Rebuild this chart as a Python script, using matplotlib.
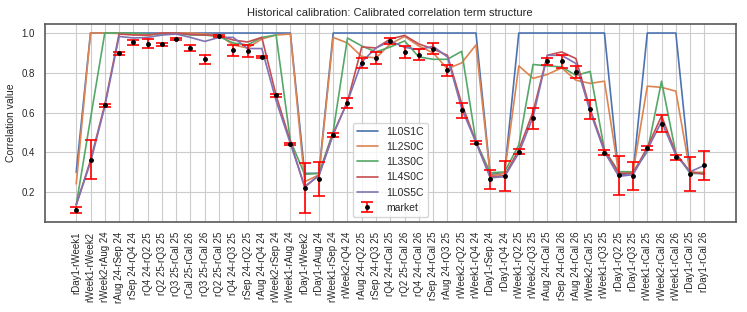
import numpy as np
import matplotlib
matplotlib.use("Agg")
import matplotlib.pyplot as plt
import seaborn as sns

# Pares de tenores (eje x)
pairs = [
    "rDay1-rWeek1", "rWeek1-rWeek2", "rWeek2-rAug 24", "rAug 24-rSep 24", "rSep 24-rQ4 24",
    "rQ4 24-rQ2 25", "rQ2 25-rQ3 25", "rQ3 25-rCal 25", "rCal 25-rCal 26", "rQ3 25-rCal 26",
    "rQ2 25-rCal 25", "rQ4 24-rQ3 25", "rSep 24-rQ2 25", "rAug 24-rQ4 24", "rWeek2-rSep 24",
    "rWeek1-rAug 24", "rDay1-rWeek2", "rDay1-rAug 24", "rWeek1-rSep 24", "rWeek2-rQ4 24",
    "rAug 24-rQ2 25", "rSep 24-rQ3 25", "rQ4 24-rCal 25", "rQ2 25-rCal 26", "rQ4 24-rCal 26",
    "rSep 24-rCal 25", "rAug 24-rQ3 25", "rWeek2-rQ2 25", "rWeek1-rQ4 24", "rDay1-rSep 24",
    "rDay1-rQ4 24", "rWeek1-rQ2 25", "rWeek2-rQ3 25", "rAug 24-rCal 25", "rSep 24-rCal 26",
    "rAug 24-rCal 26", "rWeek2-rCal 25", "rWeek1-rQ3 25", "rDay1-rQ2 25", "rDay1-rQ3 25",
    "rWeek1-rCal 25", "rWeek2-rCal 26", "rWeek1-rCal 26", "rDay1-rCal 25", "rDay1-rCal 26",
]

market = [0.112, 0.363, 0.637, 0.898, 0.953, 0.947, 0.943, 0.970, 0.927, 0.868,
          0.985, 0.913, 0.910, 0.880, 0.687, 0.442, 0.220, 0.267, 0.488, 0.650,
          0.850, 0.873, 0.960, 0.903, 0.892, 0.922, 0.812, 0.612, 0.448, 0.265,
          0.282, 0.403, 0.572, 0.857, 0.857, 0.803, 0.617, 0.398, 0.285, 0.280,
          0.423, 0.545, 0.375, 0.293, 0.335]

market_err = [0.015, 0.098, 0.007, 0.006, 0.011, 0.023, 0.007, 0.006, 0.015, 0.023,
              0.005, 0.026, 0.030, 0.006, 0.007, 0.007, 0.125, 0.085, 0.010, 0.026,
              0.026, 0.030, 0.017, 0.030, 0.028, 0.028, 0.028, 0.037, 0.008, 0.048,
              0.077, 0.012, 0.052, 0.020, 0.032, 0.030, 0.048, 0.012, 0.098, 0.071,
              0.010, 0.042, 0.013, 0.085, 0.073]

m_1L0S1C = [0.300, 1.0, 1.0, 1.0, 1.0, 1.0, 1.0, 1.0, 1.0, 1.0,
            1.0, 1.0, 1.0, 1.0, 1.0, 1.0, 0.295, 0.295, 1.0, 1.0,
            1.0, 1.0, 1.0, 1.0, 1.0, 1.0, 1.0, 1.0, 1.0, 0.290,
            0.295, 1.0, 1.0, 1.0, 1.0, 1.0, 1.0, 1.0, 0.288, 0.295,
            1.0, 1.0, 1.0, 0.295, 0.295]

m_1L2S0C = [0.242, 1.0, 1.0, 0.998, 0.995, 0.987, 1.0, 1.0, 1.0, 0.995,
            0.990, 0.940, 0.925, 0.970, 0.990, 0.995, 0.253, 0.287, 0.978, 0.950,
            0.882, 0.875, 0.945, 0.983, 0.935, 0.900, 0.820, 0.850, 0.940, 0.283,
            0.295, 0.835, 0.772, 0.792, 0.825, 0.763, 0.747, 0.758, 0.295, 0.300,
            0.733, 0.727, 0.708, 0.300, 0.300]

m_1L3S0C = [0.137, 0.570, 1.0, 1.0, 1.0, 0.995, 0.995, 0.998, 0.990, 0.990,
            0.983, 0.950, 0.940, 0.978, 0.990, 0.460, 0.290, 0.295, 0.505, 0.975,
            0.935, 0.905, 0.930, 0.960, 0.880, 0.868, 0.868, 0.908, 0.455, 0.298,
            0.302, 0.437, 0.842, 0.835, 0.830, 0.787, 0.807, 0.413, 0.303, 0.303,
            0.403, 0.758, 0.395, 0.295, 0.295]

m_1L4S0C = [0.137, 0.360, 0.640, 0.995, 0.990, 0.990, 1.0, 1.0, 0.993, 0.990,
            0.987, 0.965, 0.955, 0.978, 0.687, 0.455, 0.225, 0.285, 0.495, 0.655,
            0.930, 0.925, 0.970, 0.988, 0.945, 0.920, 0.888, 0.645, 0.453, 0.278,
            0.283, 0.413, 0.605, 0.888, 0.905, 0.872, 0.617, 0.413, 0.295, 0.295,
            0.425, 0.583, 0.395, 0.303, 0.290]

m_1L0S5C = [0.137, 0.350, 0.630, 0.983, 0.975, 0.978, 0.990, 0.995, 0.978, 0.958,
            0.978, 0.978, 0.922, 0.922, 0.660, 0.445, 0.230, 0.283, 0.490, 0.655,
            0.855, 0.925, 0.960, 0.928, 0.917, 0.933, 0.880, 0.620, 0.450, 0.273,
            0.278, 0.397, 0.578, 0.888, 0.888, 0.847, 0.605, 0.403, 0.280, 0.288,
            0.413, 0.555, 0.387, 0.303, 0.335]

models = {
    "1L0S1C": m_1L0S1C,
    "1L2S0C": m_1L2S0C,
    "1L3S0C": m_1L3S0C,
    "1L4S0C": m_1L4S0C,
    "1L0S5C": m_1L0S5C,
}


def main():
    sns.set_style("whitegrid")
    plt.rcParams["font.family"] = ["Liberation Sans", "DejaVu Sans"]

    colors = sns.color_palette("deep")
    x = np.arange(len(pairs))

    fig, ax = plt.subplots(figsize=(7.47, 3.12), dpi=100)
    fig.subplots_adjust(left=0.060, right=0.985, top=0.923, bottom=0.288)

    for (name, vals), c in zip(models.items(), colors):
        ax.plot(x, vals, color=c, lw=1.2, label=name)

    ax.errorbar(x, market, yerr=market_err, fmt="o", color="black", ms=2.5,
                ecolor="red", elinewidth=1.2, capsize=4, capthick=1.2,
                label="market", zorder=5)

    ax.set_xticks(x)
    ax.set_xticklabels(pairs, rotation=90, fontsize=7)
    ax.tick_params(axis="y", labelsize=7)
    ax.set_ylabel("Correlation value", fontsize=7.5)
    ax.set_title("Historical calibration: Calibrated correlation term structure", fontsize=8)

    for s in ax.spines.values():
        s.set_color("0.35")
        s.set_linewidth(1.2)

    ax.legend(loc="lower center", fontsize=7.5, frameon=True)

    plt.savefig("out.png", dpi=100)


if __name__ == "__main__":
    main()
